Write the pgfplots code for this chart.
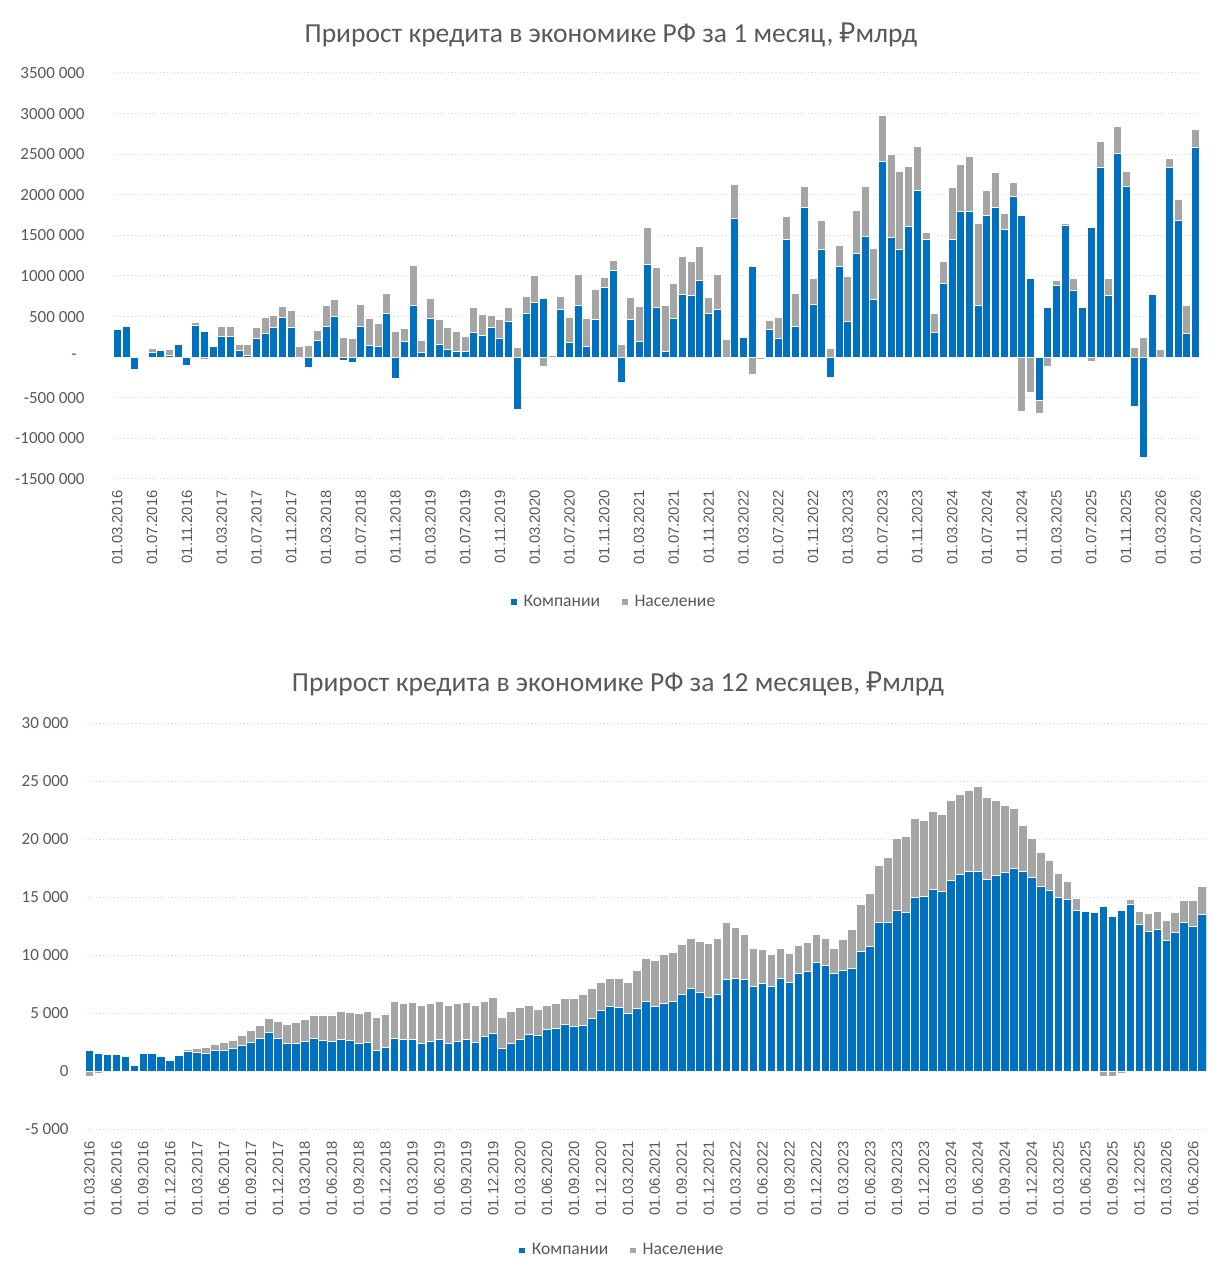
\documentclass[border=0pt]{standalone}
\usepackage{pgfplots}
\pgfplotsset{compat=1.18}
\usepackage{pgfplotstable}
\usepackage{fontspec}
\setmainfont{Carlito}
\newfontfamily\arialf{Liberation Sans}
\newfontfamily\rubf{Noto Sans}
\definecolor{cblue}{HTML}{0070C0}
\definecolor{cgray}{HTML}{A5A5A5}
\definecolor{ctext}{HTML}{595959}
\definecolor{cgrid}{HTML}{D9D9D9}
\newlength{\px}\setlength{\px}{0.5pt}

\pgfplotstableread{
n b g
0 343 343
1 376 376
2 -149 -149
3 5 10
4 54 112
5 87 87
6 20 99
7 157 157
8 -99 12
9 393 425
10 322 -25
11 136 136
12 252 372
13 252 372
14 87 157
15 25 157
16 231 364
17 293 488
18 364 508
19 488 628
20 364 570
21 0 136
22 -132 149
23 207 326
24 384 640
25 500 707
26 -37 244
27 -62 231
28 384 653
29 149 479
30 128 417
31 533 781
32 -264 318
33 190 355
34 640 1132
35 54 211
36 479 719
37 161 467
38 99 368
39 74 322
40 74 260
41 302 616
42 264 521
43 364 508
44 231 467
45 442 616
46 -649 120
47 533 744
48 678 1004
49 719 -112
50 -20 20
51 583 744
52 182 488
53 636 1017
54 136 475
55 459 839
56 855 979
57 1066 1194
58 -310 157
59 459 736
60 190 628
61 1145 1595
62 612 1099
63 74 640
64 479 913
65 769 1240
66 760 1178
67 946 1368
68 533 736
69 583 1017
70 0 215
71 1711 2132
72 240 240
73 1120 -211
74 0 -25
75 335 450
76 231 492
77 1450 1731
78 376 789
79 1839 2107
80 653 975
81 1326 1682
82 -252 103
83 1112 1376
84 438 988
85 1273 1802
86 1488 2107
87 715 1335
88 2405 2979
89 1475 2496
90 1326 2293
91 1607 2343
92 2054 2599
93 1446 1533
94 302 533
95 913 1182
96 1455 2087
97 1789 2376
98 1793 2475
99 636 1649
100 1740 2050
101 1843 2273
102 1574 1769
103 1975 2153
104 1748 -665
105 971 -438
106 -533 -698
107 612 -120
108 884 942
109 1620 1645
110 818 971
111 616 616
112 1603 -50
113 2335 2661
114 764 967
115 2508 2839
116 2099 2285
117 -603 124
118 -1236 240
119 777 777
120 0 95
121 2331 2442
122 1678 1946
123 293 640
124 2579 2802
}\topdata

\pgfplotstableread{
n b g
0 1756 -460
1 1554 -230
2 1439 -144
3 1439 -144
4 1267 1267
5 518 518
6 1497 1497
7 1497 1497
8 1267 1267
9 921 921
10 1324 1324
11 1698 1871
12 1583 1986
13 1554 2015
14 1785 2274
15 1785 2447
16 1957 2648
17 2188 3080
18 2504 3483
19 2850 3972
20 3339 4548
21 2850 4289
22 2418 4001
23 2418 4145
24 2562 4462
25 2850 4778
26 2677 4778
27 2591 4778
28 2735 5095
29 2619 5009
30 2418 4922
31 2447 5095
32 1785 4634
33 2015 4865
34 2850 6016
35 2706 5843
36 2763 5901
37 2418 5671
38 2591 5815
39 2763 6016
40 2418 5671
41 2591 5815
42 2763 5901
43 2504 5671
44 2994 5987
45 3224 6333
46 1929 4634
47 2418 5153
48 2706 5440
49 3166 5613
50 3080 5268
51 3569 5671
52 3656 5815
53 4001 6246
54 3857 6246
55 3944 6592
56 4548 7081
57 5210 7657
58 5556 8002
59 5469 8002
60 4980 7657
61 5383 8636
62 6016 9701
63 5584 9557
64 5815 10046
65 5987 10219
66 6621 10938
67 7110 11428
68 6765 11198
69 6333 11025
70 6621 11428
71 7858 12838
72 7945 12406
73 7858 11744
74 7311 10593
75 7513 10449
76 7311 10017
77 7945 10535
78 7628 10132
79 8434 10852
80 8578 11111
81 9326 11744
82 9096 11428
83 8434 10593
84 8636 11341
85 8866 12234
86 10305 14393
87 10737 15285
88 12838 17732
89 12838 18451
90 13874 20035
91 13644 20265
92 14968 21790
93 15055 21646
94 15659 22395
95 15487 22165
96 16465 23316
97 16926 23863
98 17243 24208
99 17185 24525
100 16523 23604
101 16897 23374
102 17127 22884
103 17501 22625
104 17243 21157
105 16724 20092
106 15890 18883
107 15573 18192
108 14997 17041
109 14824 16321
110 13874 14853
111 13788 13788
112 13702 -144
113 14191 -432
114 13356 -432
115 13874 -200
116 14335 14796
117 12665 13788
118 12061 13558
119 12205 13788
120 11284 12953
121 11946 13702
122 12838 14680
123 12493 14680
124 13500 15918
}\botdata

\pgfplotsset{
  mybars/.style={
    scale only axis, anchor=south west,
    xmin=-0.5, xmax=124.5,
    ybar, every axis plot post/.append style={bar shift=0pt},
    axis line style={draw=none},
    major tick length=0pt,
    scaled y ticks=false,
    ymajorgrids, xmajorgrids=false,
    grid style={cgrid, line width=0.5pt, dash pattern=on 0.6pt off 1.2pt},
    tick label style={text=ctext},
    yticklabel style={font=\fontsize{8.5pt}{10pt}\selectfont, anchor=east, inner sep=0pt},
    xticklabel style={font=\arialf\fontsize{7.4pt}{9pt}\selectfont, rotate=90, anchor=east, inner sep=0pt},
    legend image code/.code={\path[draw=none,fill=none] (0pt,-1.35pt) rectangle (4.2pt,1.35pt);
      \fill[##1,draw=none] (0pt,-1.35pt) rectangle (2.7pt,1.35pt);},
    legend style={draw=none, fill=none, font=\fontsize{8.8pt}{10pt}\selectfont, text=ctext,
      legend columns=2, anchor=center,
      /tikz/every even column/.append style={column sep=9pt},
      legend cell align=left},
  }
}

\begin{document}
\begin{tikzpicture}
\useasboundingbox (0,0) rectangle (1229\px,1280\px);
\fill[white] (0,0) rectangle (1229\px,1280\px);

\node[text=ctext, font=\fontsize{13.75pt}{16pt}\selectfont] at (611\px,1245\px)
  {Прирост кредита в экономике РФ за 1 месяц, {\rubf ₽}млрд};
\node[text=ctext, font=\fontsize{13.75pt}{16pt}\selectfont] at (618\px,596\px)
  {Прирост кредита в экономике РФ за 12 месяцев, {\rubf ₽}млрд};

\begin{axis}[mybars,
  at={(113\px,801\px)}, width=1087\px, height=406\px,
  ymin=-1500, ymax=3500,
  bar width=0.92,
  ytick={-1500,-1000,-500,0,500,1000,1500,2000,2500,3000,3500},
  yticklabels={{-1500 000},{-1000 000},{-500 000},{-\hspace*{4pt}},{500 000},{1000 000},{1500 000},{2000 000},{2500 000},{3000 000},{3500 000}},
  yticklabel shift=14pt,
  xtick={0,4,...,124},
  xticklabels={01.03.2016,01.07.2016,01.11.2016,
    01.03.2017,01.07.2017,01.11.2017,01.03.2018,01.07.2018,01.11.2018,
    01.03.2019,01.07.2019,01.11.2019,01.03.2020,01.07.2020,01.11.2020,
    01.03.2021,01.07.2021,01.11.2021,01.03.2022,01.07.2022,01.11.2022,
    01.03.2023,01.07.2023,01.11.2023,01.03.2024,01.07.2024,01.11.2024,
    01.03.2025,01.07.2025,01.11.2025,01.03.2026,01.07.2026},
  xticklabel shift=5.5pt,
  legend style={at={(0.462,-0.303)}},
]
\addlegendimage{fill=cblue}\addlegendentry{Компании}
\addlegendimage{fill=cgray}\addlegendentry{Население}
\addplot[forget plot, fill=cgray, draw=white, line width=0.5pt] table[x=n,y=g]{\topdata};
\addplot[forget plot, fill=cblue, draw=white, line width=0.5pt] table[x=n,y=b]{\topdata};
\end{axis}

\begin{axis}[mybars,
  at={(85\px,151\px)}, width=1121.7\px, height=405.7\px,
  ymin=-5000, ymax=30000,
  bar width=0.96,
  ytick={-5000,0,5000,10000,15000,20000,25000,30000},
  yticklabels={{-5 000},{0},{5 000},{10 000},{15 000},{20 000},{25 000},{30 000}},
  yticklabel shift=8pt,
  xtick={0,3,...,123},
  xticklabels={01.03.2016,01.06.2016,01.09.2016,01.12.2016,
    01.03.2017,01.06.2017,01.09.2017,01.12.2017,
    01.03.2018,01.06.2018,01.09.2018,01.12.2018,
    01.03.2019,01.06.2019,01.09.2019,01.12.2019,
    01.03.2020,01.06.2020,01.09.2020,01.12.2020,
    01.03.2021,01.06.2021,01.09.2021,01.12.2021,
    01.03.2022,01.06.2022,01.09.2022,01.12.2022,
    01.03.2023,01.06.2023,01.09.2023,01.12.2023,
    01.03.2024,01.06.2024,01.09.2024,01.12.2024,
    01.03.2025,01.06.2025,01.09.2025,01.12.2025,
    01.03.2026,01.06.2026},
  xticklabel shift=6pt,
  legend style={at={(0.48,-0.30)}},
]
\addlegendimage{fill=cblue}\addlegendentry{Компании}
\addlegendimage{fill=cgray}\addlegendentry{Население}
\addplot[forget plot, fill=cgray, draw=white, line width=0.5pt] table[x=n,y=g]{\botdata};
\addplot[forget plot, fill=cblue, draw=white, line width=0.5pt] table[x=n,y=b]{\botdata};
\end{axis}
\end{tikzpicture}
\end{document}
